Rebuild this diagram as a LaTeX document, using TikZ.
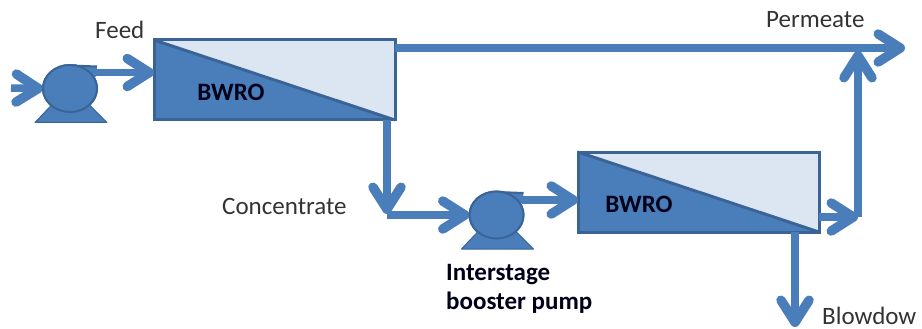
\documentclass[tikz,border=0pt]{standalone}
\usepackage{fontspec}
\setmainfont{Carlito}
\usetikzlibrary{arrows.meta,shapes.geometric}
\definecolor{flow}{HTML}{4A7EBB}
\definecolor{pumpfill}{HTML}{4A7EBB}
\definecolor{edge}{HTML}{3A6496}
\definecolor{light}{HTML}{DCE6F2}
\tikzset{
  flowline/.style={draw=flow,line width=7.5pt,-{Straight Barb[length=22pt,width=28pt,round,line width=9.5pt]}},
  unit/.style={draw=edge,line width=3pt,fill=light,minimum width=241pt,minimum height=80pt,inner sep=0pt,outer sep=0pt},
  wheel/.style={ellipse,draw=edge,line width=2pt,fill=pumpfill,minimum width=54pt,minimum height=47pt,inner sep=0pt,outer sep=0pt},
  lab/.style={font=\fontsize{25}{29}\selectfont,text=black!80,inner sep=0pt},
  boldlab/.style={font=\fontsize{25}{29}\selectfont\bfseries,text=black!90!blue,inner sep=0pt}
}
\newcommand{\pumpbody}[1]{%
  \fill[pumpfill,draw=edge,line width=1pt,line join=round]
    ([shift={(-16,14)}]#1.center) -- ([shift={(-35,34)}]#1.center) -- ([shift={(37,34)}]#1.center) -- ([shift={(17,14)}]#1.center) -- cycle;
  \fill[pumpfill]
    ([shift={(0,-23)}]#1.center) -- ([shift={(27,-22)}]#1.center) -- ([shift={(26,-12)}]#1.center) -- ([shift={(15,-8)}]#1.center) -- cycle;
  \draw[edge,line width=2pt]
    ([shift={(0,-23)}]#1.center) -- ([shift={(27,-22)}]#1.center);
}
\newcommand{\membrane}[1]{%
  \fill[pumpfill] (#1.north west) -- (#1.south east) -- (#1.south west) -- cycle;
  \draw[edge,line width=3pt] (#1.north west) -- (#1.south east);
  \draw[edge,line width=3pt] (#1.north west) rectangle (#1.south east);
}
\begin{document}
\begin{tikzpicture}[x=1pt,y=-1pt]
\useasboundingbox (0,0) rectangle (922,329);
\fill[white] (0,0) rectangle (922,329);

% free ends and junctions
\coordinate (inlet) at (11,88);
\coordinate (permIn) at (395,48);
\coordinate (permOut) at (905,48);
\coordinate (permJoin) at (858,51);
\coordinate (riseFoot) at (858,217);
\coordinate (concTop) at (387,120);
\coordinate (concFoot) at (387,214);
\coordinate (blowTop) at (795,232);
\coordinate (blowEnd) at (795,327);

% units
\node[unit] (ro1) at (274.5,80) {};
\node[unit] (ro2) at (698.5,192) {};
\membrane{ro1}
\membrane{ro2}

% pumps
\node[wheel] (p1) at (70,88.5) {};
\node[wheel] (p2) at (496.5,215) {};

% connectors
\draw[flowline] (inlet) -- (p1.west);
\draw[flowline] (p1.center) ++(25,-16) coordinate (p1out) -- (p1out -| ro1.west);
\draw[flowline] (concTop) -- (concFoot);
\draw[flowline] (concFoot |- p2.west) -- (p2.west);
\draw[flowline] (p2.center) ++(25,-15) coordinate (p2out) -- (p2out -| ro2.west);
\draw[flowline] (ro2.east |- riseFoot) -- (riseFoot);
\draw[flowline] (riseFoot) -- (permJoin);
\draw[flowline] (blowTop) -- (blowEnd);
\draw[flowline] (permIn) -- (permOut);

\pumpbody{p1}
\pumpbody{p2}
\node[wheel] at (p1) {};
\node[wheel] at (p2) {};

% labels
\node[lab,anchor=base west] (feed) at (95,39) {Feed};
\node[lab,anchor=base west] (conc) at (222,214) {Concentrate};
\node[lab,anchor=base west] (perm) at (766,28) {Permeate};
\node[lab,anchor=base west] (blow) at (822,324) {Blowdow};
\node[boldlab,anchor=base] (t1) at (231,100) {BWRO};
\node[boldlab,anchor=base] (t2) at (639,212) {BWRO};
\node[boldlab,anchor=base west] (i1) at (446,280) {Interstage};
\node[boldlab,anchor=base west] (i2) at (446,309) {booster pump};
\end{tikzpicture}
\end{document}
